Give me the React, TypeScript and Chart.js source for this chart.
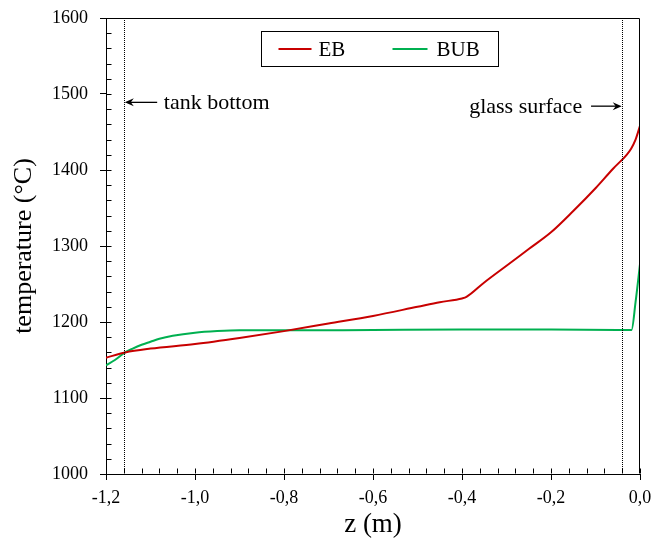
import React, { useEffect, useRef } from "react";
import { Chart, registerables } from "chart.js";
Chart.register(...registerables);

// ---- data ----
const seriesLabels = ["EB", "BUB"];
const seriesColors = ["#c80000", "#00b050"];

const zEB = [-1.2, -1.157, -1.1, -1.0, -0.9, -0.8, -0.7, -0.6, -0.5, -0.45, -0.4, -0.39, -0.35, -0.3, -0.25, -0.2, -0.15, -0.1, -0.06, -0.03, -0.02, -0.01, 0];
const tEB = [1153, 1160, 1165, 1171, 1179, 1188, 1198, 1208, 1220, 1226, 1231, 1233, 1252, 1274, 1296, 1318, 1346, 1376, 1402, 1420, 1428, 1440, 1458];

const zBUB = [-1.2, -1.18, -1.157, -1.14, -1.12, -1.1, -1.08, -1.05, -1.0, -0.95, -0.9, -0.8, -0.6, -0.4, -0.2, -0.05, -0.019, -0.01, 0];
const tBUB = [1143, 1150, 1160, 1165, 1170, 1174, 1178, 1182, 1186, 1188, 1189, 1189, 1189.5, 1190, 1190, 1189.5, 1189.5, 1226, 1276];

const xMin = -1.2, xMax = 0, xStep = 0.2, xMinorStep = 0.04;
const yMin = 1000, yMax = 1600, yStep = 100, yMinorStep = 20;

const markerZ = [-1.16, -0.04];
const annoTexts = ["tank bottom", "glass surface"];

const FONT = "'Liberation Serif', 'Times New Roman', serif";

const decorPlugin = {
  id: "decor",
  afterDraw(chart: any) {
    const { ctx, chartArea: a, scales } = chart;
    const x = scales.x, y = scales.y;
    ctx.save();
    ctx.strokeStyle = "#000";
    ctx.lineWidth = 1;
    const L = Math.round(a.left) + 0.5, R = Math.round(a.right) - 0.5;
    const T = Math.round(a.top) + 0.5, B = Math.round(a.bottom) - 0.5;
    // top & right frame
    ctx.beginPath();
    ctx.moveTo(L, T); ctx.lineTo(R, T); ctx.lineTo(R, B);
    ctx.stroke();
    // inward minor/major ticks
    ctx.beginPath();
    const nx = Math.round((xMax - xMin) / xMinorStep);
    for (let i = 0; i <= nx; i++) {
      const px = Math.round(x.getPixelForValue(xMin + i * xMinorStep)) + 0.5;
      ctx.moveTo(px, B); ctx.lineTo(px, B - 5);
    }
    const ny = Math.round((yMax - yMin) / yMinorStep);
    for (let i = 0; i <= ny; i++) {
      const py = Math.round(y.getPixelForValue(yMin + i * yMinorStep)) + 0.5;
      ctx.moveTo(L, py); ctx.lineTo(L + 5, py);
    }
    ctx.stroke();
    // dotted marker lines (pixel aligned)
    ctx.setLineDash([1, 1]);
    ctx.beginPath();
    markerZ.forEach((z) => {
      const px = Math.round(x.getPixelForValue(z)) + 0.5;
      ctx.moveTo(px, Math.round(a.top));
      ctx.lineTo(px, Math.round(a.bottom));
    });
    ctx.stroke();
    ctx.setLineDash([]);
    // arrows + annotations
    const arrow = (x0: number, x1: number, yy: number) => {
      const dir = Math.sign(x1 - x0);
      ctx.lineWidth = 1.3;
      ctx.strokeStyle = "#000";
      ctx.beginPath();
      ctx.moveTo(x0, yy); ctx.lineTo(x1 - dir * 4, yy);
      ctx.stroke();
      ctx.beginPath();
      ctx.moveTo(x1, yy);
      ctx.lineTo(x1 - dir * 9, yy - 4);
      ctx.lineTo(x1 - dir * 6, yy);
      ctx.lineTo(x1 - dir * 9, yy + 4);
      ctx.closePath();
      ctx.fillStyle = "#000";
      ctx.fill();
    };
    const yTank = y.getPixelForValue(1489);
    arrow(x.getPixelForValue(-1.085), x.getPixelForValue(markerZ[0]) + 1, yTank);
    const yGlass = y.getPixelForValue(1484);
    arrow(x.getPixelForValue(-0.11), x.getPixelForValue(markerZ[1]) - 0.5, yGlass);
    ctx.fillStyle = "#000";
    ctx.font = `22px ${FONT}`;
    ctx.textBaseline = "middle";
    ctx.textAlign = "left";
    ctx.fillText(annoTexts[0], x.getPixelForValue(-1.07), yTank + 1);
    ctx.textAlign = "right";
    ctx.fillText(annoTexts[1], x.getPixelForValue(-0.13), yGlass + 1);
    // legend
    const bx = Math.round(a.left + 155) + 0.5, by = Math.round(a.top + 13) + 0.5;
    const bw = 237, bh = 35;
    ctx.fillStyle = "#fff";
    ctx.fillRect(bx, by, bw, bh);
    ctx.lineWidth = 1;
    ctx.strokeStyle = "#000";
    ctx.strokeRect(bx, by, bw, bh);
    const ly = by + 17.5;
    const ds = chart.data.datasets;
    const items = [
      { x0: bx + 17, x1: bx + 50, tx: bx + 57 },
      { x0: bx + 131, x1: bx + 166, tx: bx + 175 },
    ];
    items.forEach((it, i) => {
      ctx.strokeStyle = ds[i].borderColor;
      ctx.lineWidth = 2;
      ctx.beginPath();
      ctx.moveTo(it.x0, ly); ctx.lineTo(it.x1, ly);
      ctx.stroke();
      ctx.fillStyle = "#000";
      ctx.font = `21px ${FONT}`;
      ctx.textAlign = "left";
      ctx.textBaseline = "middle";
      ctx.fillText(ds[i].label, it.tx, ly + 1);
    });
    ctx.restore();
  },
};

export default function App() {
  const ref = useRef<HTMLCanvasElement>(null);
  useEffect(() => {
    document.body.style.margin = "0";
    const toPts = (xs: number[], ys: number[]) => xs.map((v, i) => ({ x: v, y: ys[i] }));
    const chart = new Chart(ref.current!, {
      type: "line",
      data: {
        datasets: [
          { label: seriesLabels[0], data: toPts(zEB, tEB), borderColor: seriesColors[0], borderWidth: 2, pointRadius: 0, cubicInterpolationMode: "monotone" },
          { label: seriesLabels[1], data: toPts(zBUB, tBUB), borderColor: seriesColors[1], borderWidth: 2, pointRadius: 0, cubicInterpolationMode: "monotone" },
        ],
      },
      options: {
        animation: false,
        responsive: false,
        devicePixelRatio: 1,
        layout: { padding: { left: 0, right: 12, top: 18, bottom: 0 } },
        plugins: { legend: { display: false }, tooltip: { enabled: false } },
        scales: {
          x: {
            type: "linear",
            min: xMin,
            max: xMax,
            afterFit: (s: any) => { s.height = 69; s.paddingLeft = 0; s.paddingRight = 0; },
            ticks: {
              stepSize: xStep,
              color: "#000",
              font: { family: FONT, size: 18 },
              padding: 7,
              maxRotation: 0,
              callback: (v: any) => Number(v).toFixed(1).replace(".", ","),
            },
            grid: { drawOnChartArea: false, drawTicks: true, tickLength: 6, color: "#000" },
            border: { display: true, color: "#000", width: 1 },
            title: { display: true, text: "z (m)", color: "#000", font: { family: FONT, size: 27 }, padding: { top: 0, bottom: 2 } },
          },
          y: {
            type: "linear",
            min: yMin,
            max: yMax,
            afterFit: (s: any) => { s.width = 106; s.paddingTop = 0; s.paddingBottom = 0; },
            ticks: {
              stepSize: yStep,
              color: "#000",
              font: { family: FONT, size: 18 },
              padding: 12,
              callback: (v: any) => String(v),
            },
            grid: { drawOnChartArea: false, drawTicks: true, tickLength: 6, color: "#000" },
            border: { display: true, color: "#000", width: 1 },
            title: { display: true, text: "temperature (°C)", color: "#000", font: { family: FONT, size: 26 }, padding: { top: 9, bottom: 0 } },
          },
        },
      },
      plugins: [decorPlugin],
    } as any);
    return () => chart.destroy();
  }, []);
  return <canvas ref={ref} width={652} height={543} style={{ display: "block" }} />;
}
